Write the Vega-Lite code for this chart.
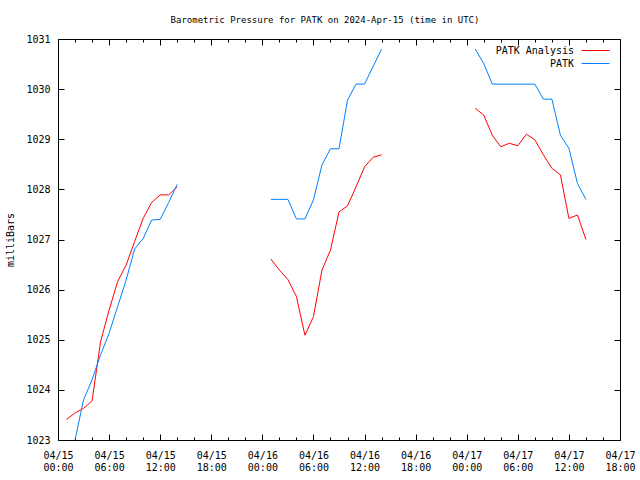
{
  "$schema": "https://vega.github.io/schema/vega-lite/v6.json",
  "width": 562,
  "height": 401,
  "autosize": {"type": "none"},
  "padding": {"left": 58, "top": 39, "right": 20, "bottom": 40},
  "background": "white",
  "title": {
    "text": "Barometric Pressure for PATK on 2024-Apr-15 (time in UTC)",
    "font": "DejaVu Sans Mono",
    "fontSize": 9,
    "fontWeight": "normal",
    "color": "black",
    "anchor": "middle",
    "frame": "group",
    "baseline": "alphabetic",
    "offset": 2,
    "dx": -14
  },
  "config": {
    "view": {"stroke": "black", "strokeWidth": 1},
    "axis": {
      "domain": false,
      "grid": false,
      "labelFont": "DejaVu Sans Mono",
      "labelFontSize": 10,
      "labelColor": "black",
      "tickColor": "black",
      "titleFont": "DejaVu Sans Mono",
      "titleFontSize": 10,
      "titleFontWeight": "normal",
      "titleColor": "black"
    }
  },
  "data": {
    "values": [
      {"t": "2024-04-15T01:00:00Z", "p": 1023.41, "s": "PATK Analysis", "seg": 1},
      {"t": "2024-04-15T02:00:00Z", "p": 1023.54, "s": "PATK Analysis", "seg": 1},
      {"t": "2024-04-15T03:00:00Z", "p": 1023.63, "s": "PATK Analysis", "seg": 1},
      {"t": "2024-04-15T04:00:00Z", "p": 1023.78, "s": "PATK Analysis", "seg": 1},
      {"t": "2024-04-15T05:00:00Z", "p": 1024.96, "s": "PATK Analysis", "seg": 1},
      {"t": "2024-04-15T06:00:00Z", "p": 1025.59, "s": "PATK Analysis", "seg": 1},
      {"t": "2024-04-15T07:00:00Z", "p": 1026.16, "s": "PATK Analysis", "seg": 1},
      {"t": "2024-04-15T08:00:00Z", "p": 1026.49, "s": "PATK Analysis", "seg": 1},
      {"t": "2024-04-15T09:00:00Z", "p": 1026.96, "s": "PATK Analysis", "seg": 1},
      {"t": "2024-04-15T10:00:00Z", "p": 1027.42, "s": "PATK Analysis", "seg": 1},
      {"t": "2024-04-15T11:00:00Z", "p": 1027.74, "s": "PATK Analysis", "seg": 1},
      {"t": "2024-04-15T12:00:00Z", "p": 1027.89, "s": "PATK Analysis", "seg": 1},
      {"t": "2024-04-15T13:00:00Z", "p": 1027.89, "s": "PATK Analysis", "seg": 1},
      {"t": "2024-04-15T14:00:00Z", "p": 1028.05, "s": "PATK Analysis", "seg": 1},
      {"t": "2024-04-16T01:00:00Z", "p": 1026.61, "s": "PATK Analysis", "seg": 2},
      {"t": "2024-04-16T02:00:00Z", "p": 1026.39, "s": "PATK Analysis", "seg": 2},
      {"t": "2024-04-16T03:00:00Z", "p": 1026.2, "s": "PATK Analysis", "seg": 2},
      {"t": "2024-04-16T04:00:00Z", "p": 1025.86, "s": "PATK Analysis", "seg": 2},
      {"t": "2024-04-16T05:00:00Z", "p": 1025.09, "s": "PATK Analysis", "seg": 2},
      {"t": "2024-04-16T06:00:00Z", "p": 1025.46, "s": "PATK Analysis", "seg": 2},
      {"t": "2024-04-16T07:00:00Z", "p": 1026.39, "s": "PATK Analysis", "seg": 2},
      {"t": "2024-04-16T08:00:00Z", "p": 1026.79, "s": "PATK Analysis", "seg": 2},
      {"t": "2024-04-16T09:00:00Z", "p": 1027.55, "s": "PATK Analysis", "seg": 2},
      {"t": "2024-04-16T10:00:00Z", "p": 1027.67, "s": "PATK Analysis", "seg": 2},
      {"t": "2024-04-16T11:00:00Z", "p": 1028.05, "s": "PATK Analysis", "seg": 2},
      {"t": "2024-04-16T12:00:00Z", "p": 1028.45, "s": "PATK Analysis", "seg": 2},
      {"t": "2024-04-16T13:00:00Z", "p": 1028.64, "s": "PATK Analysis", "seg": 2},
      {"t": "2024-04-16T14:00:00Z", "p": 1028.69, "s": "PATK Analysis", "seg": 2},
      {"t": "2024-04-17T01:00:00Z", "p": 1029.62, "s": "PATK Analysis", "seg": 3},
      {"t": "2024-04-17T02:00:00Z", "p": 1029.48, "s": "PATK Analysis", "seg": 3},
      {"t": "2024-04-17T03:00:00Z", "p": 1029.08, "s": "PATK Analysis", "seg": 3},
      {"t": "2024-04-17T04:00:00Z", "p": 1028.85, "s": "PATK Analysis", "seg": 3},
      {"t": "2024-04-17T05:00:00Z", "p": 1028.92, "s": "PATK Analysis", "seg": 3},
      {"t": "2024-04-17T06:00:00Z", "p": 1028.87, "s": "PATK Analysis", "seg": 3},
      {"t": "2024-04-17T07:00:00Z", "p": 1029.1, "s": "PATK Analysis", "seg": 3},
      {"t": "2024-04-17T08:00:00Z", "p": 1028.99, "s": "PATK Analysis", "seg": 3},
      {"t": "2024-04-17T09:00:00Z", "p": 1028.69, "s": "PATK Analysis", "seg": 3},
      {"t": "2024-04-17T10:00:00Z", "p": 1028.42, "s": "PATK Analysis", "seg": 3},
      {"t": "2024-04-17T11:00:00Z", "p": 1028.29, "s": "PATK Analysis", "seg": 3},
      {"t": "2024-04-17T12:00:00Z", "p": 1027.42, "s": "PATK Analysis", "seg": 3},
      {"t": "2024-04-17T13:00:00Z", "p": 1027.49, "s": "PATK Analysis", "seg": 3},
      {"t": "2024-04-17T14:00:00Z", "p": 1027.0, "s": "PATK Analysis", "seg": 3},
      {"t": "2024-04-15T02:00:00Z", "p": 1023.0, "s": "PATK", "seg": 1},
      {"t": "2024-04-15T03:00:00Z", "p": 1023.8, "s": "PATK", "seg": 1},
      {"t": "2024-04-15T04:00:00Z", "p": 1024.2, "s": "PATK", "seg": 1},
      {"t": "2024-04-15T05:00:00Z", "p": 1024.7, "s": "PATK", "seg": 1},
      {"t": "2024-04-15T06:00:00Z", "p": 1025.13, "s": "PATK", "seg": 1},
      {"t": "2024-04-15T07:00:00Z", "p": 1025.66, "s": "PATK", "seg": 1},
      {"t": "2024-04-15T08:00:00Z", "p": 1026.19, "s": "PATK", "seg": 1},
      {"t": "2024-04-15T09:00:00Z", "p": 1026.81, "s": "PATK", "seg": 1},
      {"t": "2024-04-15T10:00:00Z", "p": 1027.02, "s": "PATK", "seg": 1},
      {"t": "2024-04-15T11:00:00Z", "p": 1027.39, "s": "PATK", "seg": 1},
      {"t": "2024-04-15T12:00:00Z", "p": 1027.4, "s": "PATK", "seg": 1},
      {"t": "2024-04-15T13:00:00Z", "p": 1027.74, "s": "PATK", "seg": 1},
      {"t": "2024-04-15T14:00:00Z", "p": 1028.1, "s": "PATK", "seg": 1},
      {"t": "2024-04-16T01:00:00Z", "p": 1027.8, "s": "PATK", "seg": 2},
      {"t": "2024-04-16T02:00:00Z", "p": 1027.8, "s": "PATK", "seg": 2},
      {"t": "2024-04-16T03:00:00Z", "p": 1027.8, "s": "PATK", "seg": 2},
      {"t": "2024-04-16T04:00:00Z", "p": 1027.41, "s": "PATK", "seg": 2},
      {"t": "2024-04-16T05:00:00Z", "p": 1027.41, "s": "PATK", "seg": 2},
      {"t": "2024-04-16T06:00:00Z", "p": 1027.79, "s": "PATK", "seg": 2},
      {"t": "2024-04-16T07:00:00Z", "p": 1028.49, "s": "PATK", "seg": 2},
      {"t": "2024-04-16T08:00:00Z", "p": 1028.81, "s": "PATK", "seg": 2},
      {"t": "2024-04-16T09:00:00Z", "p": 1028.81, "s": "PATK", "seg": 2},
      {"t": "2024-04-16T10:00:00Z", "p": 1029.78, "s": "PATK", "seg": 2},
      {"t": "2024-04-16T11:00:00Z", "p": 1030.1, "s": "PATK", "seg": 2},
      {"t": "2024-04-16T12:00:00Z", "p": 1030.1, "s": "PATK", "seg": 2},
      {"t": "2024-04-16T13:00:00Z", "p": 1030.45, "s": "PATK", "seg": 2},
      {"t": "2024-04-16T14:00:00Z", "p": 1030.8, "s": "PATK", "seg": 2},
      {"t": "2024-04-17T01:00:00Z", "p": 1030.8, "s": "PATK", "seg": 3},
      {"t": "2024-04-17T02:00:00Z", "p": 1030.51, "s": "PATK", "seg": 3},
      {"t": "2024-04-17T03:00:00Z", "p": 1030.1, "s": "PATK", "seg": 3},
      {"t": "2024-04-17T04:00:00Z", "p": 1030.1, "s": "PATK", "seg": 3},
      {"t": "2024-04-17T05:00:00Z", "p": 1030.1, "s": "PATK", "seg": 3},
      {"t": "2024-04-17T06:00:00Z", "p": 1030.1, "s": "PATK", "seg": 3},
      {"t": "2024-04-17T07:00:00Z", "p": 1030.1, "s": "PATK", "seg": 3},
      {"t": "2024-04-17T08:00:00Z", "p": 1030.1, "s": "PATK", "seg": 3},
      {"t": "2024-04-17T09:00:00Z", "p": 1029.8, "s": "PATK", "seg": 3},
      {"t": "2024-04-17T10:00:00Z", "p": 1029.8, "s": "PATK", "seg": 3},
      {"t": "2024-04-17T11:00:00Z", "p": 1029.08, "s": "PATK", "seg": 3},
      {"t": "2024-04-17T12:00:00Z", "p": 1028.82, "s": "PATK", "seg": 3},
      {"t": "2024-04-17T13:00:00Z", "p": 1028.12, "s": "PATK", "seg": 3},
      {"t": "2024-04-17T14:00:00Z", "p": 1027.8, "s": "PATK", "seg": 3}
    ]
  },
  "layer": [
    {
      "mark": {"type": "line", "strokeWidth": 1, "clip": true},
      "encoding": {
        "x": {
          "field": "t", "type": "temporal",
          "scale": {"type": "utc", "domain": [1713139200000, 1713376800000], "nice": false},
          "axis": {
            "orient": "bottom",
            "values": [1713139200000, 1713160800000, 1713182400000, 1713204000000, 1713225600000, 1713247200000, 1713268800000, 1713290400000, 1713312000000, 1713333600000, 1713355200000, 1713376800000],
            "tickSize": -6,
            "labelPadding": 16,
            "labelLineHeight": 12,
            "labelBaseline": "top",
            "labelExpr": "[utcFormat(datum.value, '%m/%d'), utcFormat(datum.value, '%H:%M')]",
            "labelFlush": false,
            "labelOverlap": false,
            "title": null
          }
        },
        "y": {
          "field": "p", "type": "quantitative",
          "scale": {"domain": [1023, 1031], "zero": false, "nice": false},
          "axis": {
            "orient": "left",
            "values": [1023, 1024, 1025, 1026, 1027, 1028, 1029, 1030, 1031],
            "tickSize": -6,
            "labelPadding": 14,
            "format": "d",
            "title": "milliBars",
            "titlePadding": 10
          }
        },
        "color": {
          "field": "s", "type": "nominal",
          "scale": {"domain": ["PATK Analysis", "PATK"], "range": ["#ff0000", "#0080ff"]},
          "legend": {
            "title": null,
            "orient": "none",
            "legendX": 530,
            "legendY": 4,
            "padding": 0,
            "symbolType": "M-2,0H2",
            "symbolSize": 196,
            "symbolStrokeWidth": 1,
            "labelAlign": "right",
            "labelOffset": -29,
            "labelFont": "DejaVu Sans Mono",
            "labelFontSize": 10,
            "labelColor": "black",
            "rowPadding": -1,
            "encode": {
              "symbols": {"update": {"stroke": {"scale": "color", "field": "value"}, "fill": {"value": "transparent"}}}
            }
          }
        },
        "detail": {"field": "seg", "type": "nominal"}
      }
    },
    {
      "mark": {"type": "line", "opacity": 0},
      "encoding": {
        "x": {"field": "t", "type": "temporal",
          "axis": {"orient": "top", "values": [1713139200000, 1713160800000, 1713182400000, 1713204000000, 1713225600000, 1713247200000, 1713268800000, 1713290400000, 1713312000000, 1713333600000, 1713355200000, 1713376800000], "tickSize": -6, "labels": false, "title": null}},
        "y": {"field": "p", "type": "quantitative",
          "axis": {"orient": "right", "values": [1023, 1024, 1025, 1026, 1027, 1028, 1029, 1030, 1031], "tickSize": -6, "labels": false, "title": null}}
      }
    },
    {
      "mark": {"type": "line", "opacity": 0},
      "encoding": {
        "x": {"field": "t", "type": "temporal",
          "axis": {"orient": "bottom", "values": [1713139200000, 1713146400000, 1713153600000, 1713160800000, 1713168000000, 1713175200000, 1713182400000, 1713189600000, 1713196800000, 1713204000000, 1713211200000, 1713218400000, 1713225600000, 1713232800000, 1713240000000, 1713247200000, 1713254400000, 1713261600000, 1713268800000, 1713276000000, 1713283200000, 1713290400000, 1713297600000, 1713304800000, 1713312000000, 1713319200000, 1713326400000, 1713333600000, 1713340800000, 1713348000000, 1713355200000, 1713362400000, 1713369600000, 1713376800000], "tickSize": -3, "labels": false, "title": null}},
        "y": {"field": "p", "type": "quantitative", "axis": null}
      }
    },
    {
      "mark": {"type": "line", "opacity": 0},
      "encoding": {
        "x": {"field": "t", "type": "temporal",
          "axis": {"orient": "top", "values": [1713139200000, 1713146400000, 1713153600000, 1713160800000, 1713168000000, 1713175200000, 1713182400000, 1713189600000, 1713196800000, 1713204000000, 1713211200000, 1713218400000, 1713225600000, 1713232800000, 1713240000000, 1713247200000, 1713254400000, 1713261600000, 1713268800000, 1713276000000, 1713283200000, 1713290400000, 1713297600000, 1713304800000, 1713312000000, 1713319200000, 1713326400000, 1713333600000, 1713340800000, 1713348000000, 1713355200000, 1713362400000, 1713369600000, 1713376800000], "tickSize": -3, "labels": false, "title": null}},
        "y": {"field": "p", "type": "quantitative", "axis": null}
      }
    }
  ],
  "resolve": {"axis": {"x": "independent", "y": "independent"}}
}
